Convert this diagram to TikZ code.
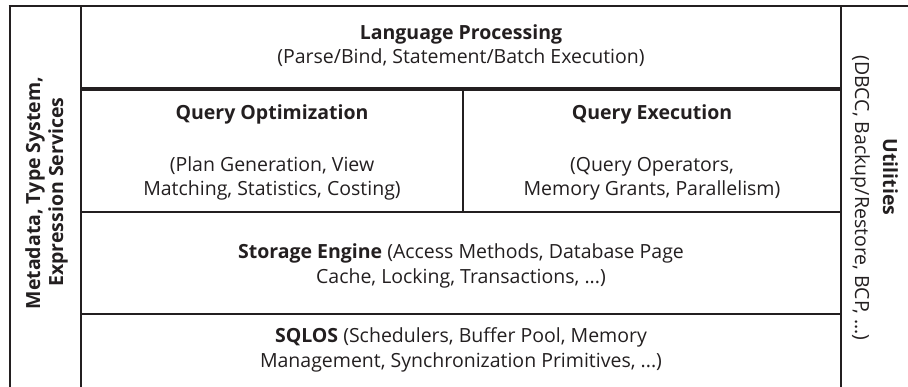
\documentclass[tikz,border=0pt]{standalone}
\usepackage{fontspec}
\setmainfont{Open Sans}
\definecolor{ink}{HTML}{231F20}
\begin{document}
\begin{tikzpicture}[x=1pt,y=-1pt,
  rule/.style={draw=ink, line width=2.6pt},
  heavyrule/.style={draw=ink, line width=4.6pt},
  label/.style={text=ink, inner sep=0pt, anchor=base,
    font=\fontsize{19.5}{24}\selectfont}]
\useasboundingbox (0,0) rectangle (908,387);

% frame and layer boundaries
\draw[rule] (10,387) -- (10,6);
\draw[rule] (8.7,6) -- (908,6);
\draw[rule] (81,6) -- (81,387);
\draw[rule] (841,6) -- (841,387);
\draw[heavyrule] (81,89) -- (841,89);
\draw[rule] (463,89) -- (463,212);
\draw[rule] (81,212) -- (841,212);
\draw[rule] (81,314) -- (841,314);

% Language processing layer
\node[label] (lp1) at (461,40) {\textbf{Language Processing}};
\node[label] (lp2) at (461,64) {(Parse/Bind, Statement/Batch Execution)};

% Optimizer and executor
\node[label] (qo1) at (272,120) {\textbf{Query Optimization}};
\node[label] (qo2) at (272,172) {(Plan Generation, View};
\node[label] (qo3) at (272,196) {Matching, Statistics, Costing)};
\node[label] (qe1) at (652,120) {\textbf{Query Execution}};
\node[label] (qe2) at (652,172) {(Query Operators,};
\node[label] (qe3) at (652,196) {Memory Grants, Parallelism)};

% Storage engine
\node[label] (se1) at (461,259) {\textbf{Storage Engine} (Access Methods, Database Page};
\node[label] (se2) at (461,284) {Cache, Locking, Transactions, ...)};

% SQLOS
\node[label] (os1) at (461,343) {\textbf{SQLOS} (Schedulers, Buffer Pool, Memory};
\node[label] (os2) at (461,368) {Management, Synchronization Primitives, ...)};

% side columns
\node[label, rotate=90] (meta1) at (40,193) {\textbf{Metadata, Type System,}};
\node[label, rotate=90] (meta2) at (63,192) {\textbf{Expression Services}};
\node[label, rotate=-90] (util1) at (883,177) {\textbf{Utilities}};
\node[label, rotate=-90] (util2) at (855,198) {(DBCC, Backup/Restore, BCP, ...)};
\end{tikzpicture}
\end{document}
